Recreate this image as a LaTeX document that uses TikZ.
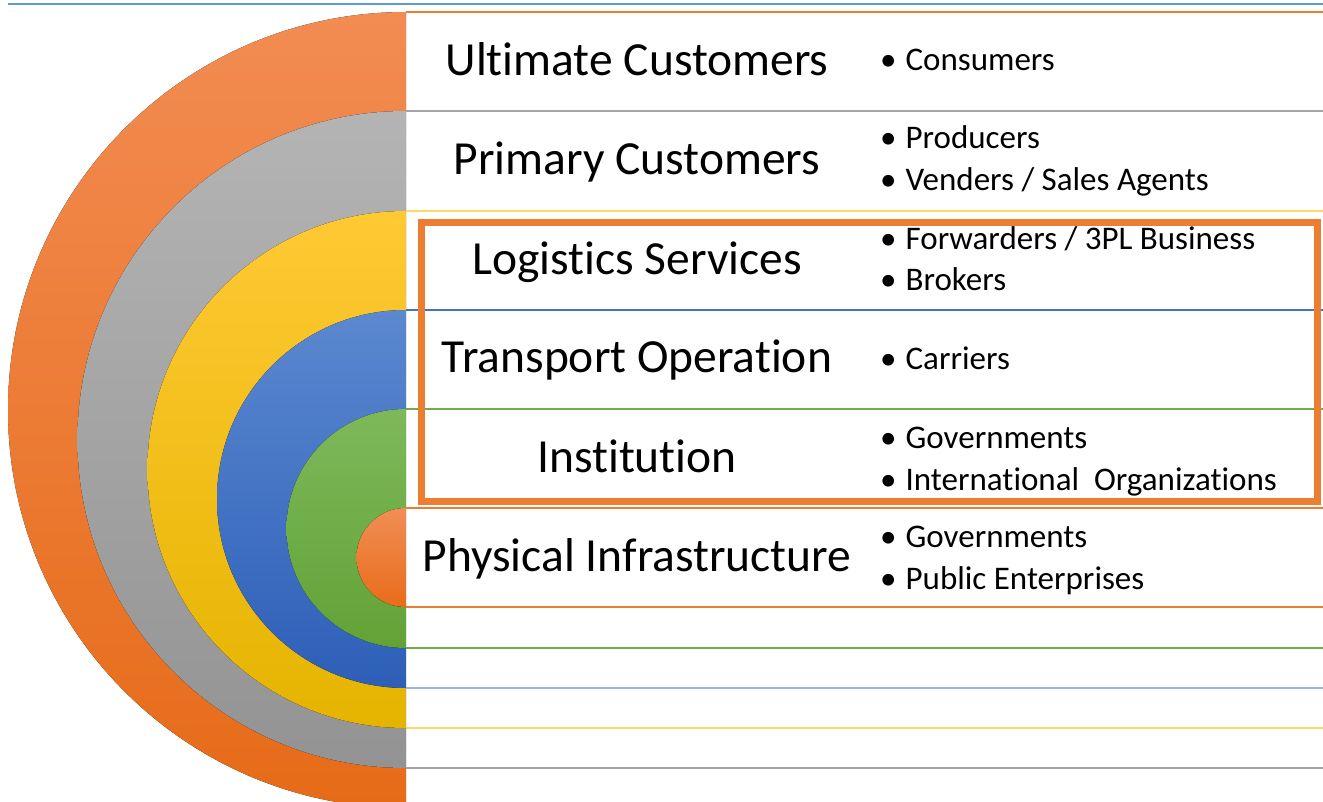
\documentclass[tikz,border=0pt]{standalone}
\usepackage{fontspec}
\setmainfont[Ligatures={NoCommon,NoContextual,NoRequired},Contextuals=NoAlternate]{Carlito}
\definecolor{lnOrange}{HTML}{ED7D31}
\definecolor{lnGray}{HTML}{A5A5A5}
\definecolor{lnYellow}{HTML}{FFD966}
\definecolor{lnBlue}{HTML}{4472C4}
\definecolor{lnBlueL}{HTML}{9BB3E0}
\definecolor{lnGreen}{HTML}{70AD47}
\definecolor{lnTop}{HTML}{5B9BD5}
\definecolor{edgeL}{HTML}{E6E6E6}
\tikzset{
  band/.style={line width=1.3pt},
  title/.style={anchor=base, font=\fontsize{47.5}{52}\selectfont, inner sep=0pt},
  item/.style={anchor=base west, font=\fontsize{33}{38}\selectfont, inner sep=0pt},
}
\newcommand{\bul}{\textbullet\hspace{9pt}}
\newcommand{\ti}{t\kern0pt i}
\newcommand{\halfdisc}[4]{%
  \definecolor{discTop}{HTML}{#3}\definecolor{discBot}{HTML}{#4}%
  \fill[top color=discTop, bottom color=discBot] (406,#1) arc[start angle=90, end angle=270, radius=#2pt] -- cycle;}
\begin{document}
\begin{tikzpicture}[x=1pt,y=-1pt]
\useasboundingbox (0,0) rectangle (1323,802);
\clip (0,0) rectangle (1323,802);
\fill[white] (0,0) rectangle (1323,802);
% top line
\draw[lnTop, line width=1.5pt] (8,4) -- (1323,4);
% half discs
\halfdisc{12}{398}{F28C52}{E66B18}
\halfdisc{111}{328.5}{B4B4B4}{939393}
\halfdisc{211}{258.5}{FFC934}{E5B400}
\halfdisc{310}{189}{5B88CF}{2D5FB8}
\halfdisc{409}{119.5}{7DB95A}{62A236}
\halfdisc{508}{49.5}{F08E55}{E86C1A}
% left edge of rows
\draw[edgeL, line width=0.8pt] (406.5,12) -- (406.5,802);
% row borders
\draw[band, lnOrange] (406,12) -- (1323,12);
\draw[band, lnGray] (406,111) -- (1323,111);
\draw[band, lnYellow] (406,211) -- (1323,211);
\draw[band, lnBlue] (406,310) -- (1323,310);
\draw[band, lnGreen] (406,409) -- (1323,409);
\draw[band, lnOrange] (406,508) -- (1323,508);
\draw[band, lnOrange] (406,607) -- (1323,607);
\draw[band, lnGreen] (406,648) -- (1323,648);
\draw[band, lnBlueL, line width=1.8pt] (406,688) -- (1323,688);
\draw[band, lnYellow] (406,728) -- (1323,728);
\draw[band, lnGray] (406,768) -- (1323,768);
% highlight frame
\draw[lnOrange, line width=7pt] (421,223) rectangle (1317,501.5);
% titles
\node[title] (t1) at (637,76) {Ul\ti mate Customers};
\node[title] (t2) at (637,175) {Primary Customers};
\node[title] (t3) at (637,275) {Logis\ti cs Services};
\node[title] (t4) at (637,373) {Transport Opera\ti on};
\node[title] (t5) at (637,472) {Ins\ti tu\ti on};
\node[title] (t6) at (637,571) {Physical Infrastructure};
% items
\node[item] (i1) at (880,71) {\bul Consumers};
\node[item] (i2a) at (880,149) {\bul Producers};
\node[item] (i2b) at (880,191) {\bul Venders / Sales Agents};
\node[item] (i3a) at (880,250) {\bul Forwarders / 3PL Business};
\node[item] (i3b) at (880,291) {\bul Brokers};
\node[item] (i4) at (880,370) {\bul Carriers};
\node[item] (i5a) at (880,448) {\bul Governments};
\node[item] (i5b) at (880,490) {\bul Interna\ti onal\ \ Organiza\ti ons};
\node[item] (i6a) at (880,547) {\bul Governments};
\node[item] (i6b) at (880,589) {\bul Public Enterprises};
\end{tikzpicture}
\end{document}
